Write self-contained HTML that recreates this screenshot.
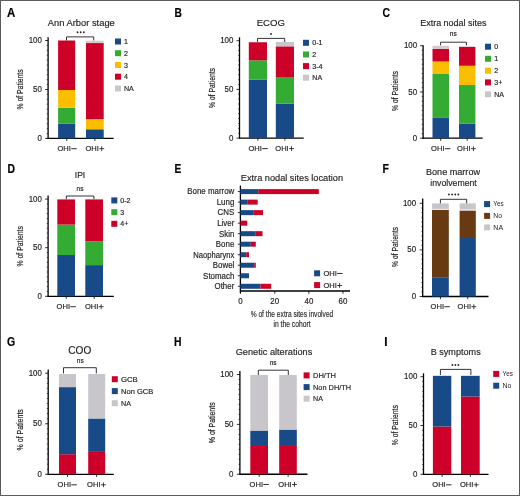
<!DOCTYPE html>
<html><head><meta charset="utf-8"><style>
html,body{margin:0;padding:0;background:#fff;}
body{width:520px;height:496px;overflow:hidden;}
svg{display:block;font-family:"Liberation Sans", sans-serif;filter:blur(0.3px);}


</style></head><body>
<svg width="520" height="496" viewBox="0 0 520 496">
<rect x="0" y="0" width="520" height="496" fill="#fff"/>
<text x="7.0" y="17" font-size="12.2" font-weight="bold" textLength="8.3" lengthAdjust="spacingAndGlyphs" stroke="#000" stroke-width="0.18" fill="#000">A</text>
<text x="47.8" y="26.0" font-size="9.95" textLength="67.0" lengthAdjust="spacingAndGlyphs" stroke="#231f20" stroke-width="0.18" fill="#231f20">Ann Arbor stage</text>
<line x1="48.10" y1="37.30" x2="48.10" y2="138.95" stroke="#000" stroke-width="1.3"/>
<line x1="45.10" y1="138.45" x2="48.10" y2="138.45" stroke="#000" stroke-width="0.8"/>
<line x1="46.70" y1="133.55" x2="48.10" y2="133.55" stroke="#000" stroke-width="0.6"/>
<line x1="46.70" y1="128.66" x2="48.10" y2="128.66" stroke="#000" stroke-width="0.6"/>
<line x1="46.70" y1="123.76" x2="48.10" y2="123.76" stroke="#000" stroke-width="0.6"/>
<line x1="46.70" y1="118.86" x2="48.10" y2="118.86" stroke="#000" stroke-width="0.6"/>
<line x1="46.70" y1="113.96" x2="48.10" y2="113.96" stroke="#000" stroke-width="0.6"/>
<line x1="46.70" y1="109.06" x2="48.10" y2="109.06" stroke="#000" stroke-width="0.6"/>
<line x1="46.70" y1="104.17" x2="48.10" y2="104.17" stroke="#000" stroke-width="0.6"/>
<line x1="46.70" y1="99.27" x2="48.10" y2="99.27" stroke="#000" stroke-width="0.6"/>
<line x1="46.70" y1="94.37" x2="48.10" y2="94.37" stroke="#000" stroke-width="0.6"/>
<line x1="45.10" y1="89.47" x2="48.10" y2="89.47" stroke="#000" stroke-width="0.8"/>
<line x1="46.70" y1="84.58" x2="48.10" y2="84.58" stroke="#000" stroke-width="0.6"/>
<line x1="46.70" y1="79.68" x2="48.10" y2="79.68" stroke="#000" stroke-width="0.6"/>
<line x1="46.70" y1="74.78" x2="48.10" y2="74.78" stroke="#000" stroke-width="0.6"/>
<line x1="46.70" y1="69.88" x2="48.10" y2="69.88" stroke="#000" stroke-width="0.6"/>
<line x1="46.70" y1="64.99" x2="48.10" y2="64.99" stroke="#000" stroke-width="0.6"/>
<line x1="46.70" y1="60.09" x2="48.10" y2="60.09" stroke="#000" stroke-width="0.6"/>
<line x1="46.70" y1="55.19" x2="48.10" y2="55.19" stroke="#000" stroke-width="0.6"/>
<line x1="46.70" y1="50.30" x2="48.10" y2="50.30" stroke="#000" stroke-width="0.6"/>
<line x1="46.70" y1="45.40" x2="48.10" y2="45.40" stroke="#000" stroke-width="0.6"/>
<line x1="45.10" y1="40.50" x2="48.10" y2="40.50" stroke="#000" stroke-width="0.8"/>
<text x="41.9" y="43.028" font-size="8.45" text-anchor="end" textLength="13.18" lengthAdjust="spacingAndGlyphs" stroke="#231f20" stroke-width="0.18" fill="#231f20">100</text>
<text x="41.9" y="92.028" font-size="8.45" text-anchor="end" textLength="8.79" lengthAdjust="spacingAndGlyphs" stroke="#231f20" stroke-width="0.18" fill="#231f20">50</text>
<text x="41.9" y="141.028" font-size="8.45" text-anchor="end" textLength="4.39" lengthAdjust="spacingAndGlyphs" stroke="#231f20" stroke-width="0.18" fill="#231f20">0</text>
<line x1="47.60" y1="138.45" x2="113.70" y2="138.45" stroke="#000" stroke-width="1.3"/>
<line x1="66.80" y1="138.45" x2="66.80" y2="141.05" stroke="#000" stroke-width="0.8"/>
<line x1="94.90" y1="138.45" x2="94.90" y2="141.05" stroke="#000" stroke-width="0.8"/>
<rect x="58.10" y="123.80" width="17.10" height="14.70" fill="#174a86"/>
<rect x="58.10" y="107.73" width="17.10" height="16.07" fill="#34ab33"/>
<rect x="58.10" y="89.99" width="17.10" height="17.74" fill="#fbbd00"/>
<rect x="58.10" y="40.50" width="17.10" height="49.49" fill="#cc0028"/>
<rect x="86.00" y="129.29" width="17.70" height="9.21" fill="#174a86"/>
<rect x="86.00" y="119.10" width="17.70" height="10.19" fill="#fbbd00"/>
<rect x="86.00" y="43.05" width="17.70" height="76.05" fill="#cc0028"/>
<rect x="86.00" y="40.70" width="17.70" height="2.35" fill="#ddc9cd"/>
<path d="M66.5,40.4 V36.9 H93.7 V40.4" fill="none" stroke="#000" stroke-width="0.8"/>
<ellipse cx="77.55" cy="32.25" rx="0.9" ry="0.99" fill="#231f20"/>
<ellipse cx="80.7" cy="32.25" rx="0.9" ry="0.99" fill="#231f20"/>
<ellipse cx="83.85" cy="32.25" rx="0.9" ry="0.99" fill="#231f20"/>
<rect x="115.00" y="38.50" width="6.00" height="6.00" fill="#174a86"/>
<text x="124" y="44.056" font-size="7.6" textLength="3.95" lengthAdjust="spacingAndGlyphs" stroke="#231f20" stroke-width="0.18" fill="#231f20">1</text>
<rect x="115.00" y="50.20" width="6.00" height="6.00" fill="#34ab33"/>
<text x="124" y="55.756" font-size="7.6" textLength="3.95" lengthAdjust="spacingAndGlyphs" stroke="#231f20" stroke-width="0.18" fill="#231f20">2</text>
<rect x="115.00" y="62.00" width="6.00" height="6.00" fill="#fbbd00"/>
<text x="124" y="67.556" font-size="7.6" textLength="3.95" lengthAdjust="spacingAndGlyphs" stroke="#231f20" stroke-width="0.18" fill="#231f20">3</text>
<rect x="115.00" y="73.70" width="6.00" height="6.00" fill="#cc0028"/>
<text x="124" y="79.256" font-size="7.6" textLength="3.95" lengthAdjust="spacingAndGlyphs" stroke="#231f20" stroke-width="0.18" fill="#231f20">4</text>
<rect x="115.00" y="85.50" width="6.00" height="6.00" fill="#c8c6ca"/>
<text x="124" y="91.056" font-size="7.6" textLength="9.86" lengthAdjust="spacingAndGlyphs" stroke="#231f20" stroke-width="0.18" fill="#231f20">NA</text>
<text transform="translate(23.0,89.4) rotate(-90)" x="0" y="0" font-size="9.4" text-anchor="middle" textLength="40.1" lengthAdjust="spacingAndGlyphs" fill="#231f20" stroke="#231f20" stroke-width="0.2">% of Patients</text>
<text x="57.50000000000001" y="151.3" font-size="7.92" textLength="13.4" lengthAdjust="spacingAndGlyphs" stroke="#231f20" stroke-width="0.18" fill="#231f20">OHI</text>
<rect x="71.20" y="148.25" width="5.5" height="0.95" fill="#231f20"/>
<text x="85.5" y="151.3" font-size="7.92" textLength="13.4" lengthAdjust="spacingAndGlyphs" stroke="#231f20" stroke-width="0.18" fill="#231f20">OHI</text>
<rect x="99.30" y="148.30" width="4.9" height="0.85" fill="#231f20"/>
<rect x="101.33" y="146.30" width="0.85" height="4.8" fill="#231f20"/>
<text x="174.6" y="17" font-size="12.2" font-weight="bold" textLength="7.4" lengthAdjust="spacingAndGlyphs" stroke="#000" stroke-width="0.18" fill="#000">B</text>
<text x="256.7" y="26.0" font-size="9.63" textLength="28.3" lengthAdjust="spacingAndGlyphs" stroke="#231f20" stroke-width="0.18" fill="#231f20">ECOG</text>
<line x1="239.50" y1="37.30" x2="239.50" y2="138.60" stroke="#000" stroke-width="1.3"/>
<line x1="236.50" y1="138.10" x2="239.50" y2="138.10" stroke="#000" stroke-width="0.8"/>
<line x1="238.10" y1="133.23" x2="239.50" y2="133.23" stroke="#000" stroke-width="0.6"/>
<line x1="238.10" y1="128.36" x2="239.50" y2="128.36" stroke="#000" stroke-width="0.6"/>
<line x1="238.10" y1="123.49" x2="239.50" y2="123.49" stroke="#000" stroke-width="0.6"/>
<line x1="238.10" y1="118.62" x2="239.50" y2="118.62" stroke="#000" stroke-width="0.6"/>
<line x1="238.10" y1="113.75" x2="239.50" y2="113.75" stroke="#000" stroke-width="0.6"/>
<line x1="238.10" y1="108.88" x2="239.50" y2="108.88" stroke="#000" stroke-width="0.6"/>
<line x1="238.10" y1="104.01" x2="239.50" y2="104.01" stroke="#000" stroke-width="0.6"/>
<line x1="238.10" y1="99.14" x2="239.50" y2="99.14" stroke="#000" stroke-width="0.6"/>
<line x1="238.10" y1="94.27" x2="239.50" y2="94.27" stroke="#000" stroke-width="0.6"/>
<line x1="236.50" y1="89.40" x2="239.50" y2="89.40" stroke="#000" stroke-width="0.8"/>
<line x1="238.10" y1="84.53" x2="239.50" y2="84.53" stroke="#000" stroke-width="0.6"/>
<line x1="238.10" y1="79.66" x2="239.50" y2="79.66" stroke="#000" stroke-width="0.6"/>
<line x1="238.10" y1="74.79" x2="239.50" y2="74.79" stroke="#000" stroke-width="0.6"/>
<line x1="238.10" y1="69.92" x2="239.50" y2="69.92" stroke="#000" stroke-width="0.6"/>
<line x1="238.10" y1="65.05" x2="239.50" y2="65.05" stroke="#000" stroke-width="0.6"/>
<line x1="238.10" y1="60.18" x2="239.50" y2="60.18" stroke="#000" stroke-width="0.6"/>
<line x1="238.10" y1="55.31" x2="239.50" y2="55.31" stroke="#000" stroke-width="0.6"/>
<line x1="238.10" y1="50.44" x2="239.50" y2="50.44" stroke="#000" stroke-width="0.6"/>
<line x1="238.10" y1="45.57" x2="239.50" y2="45.57" stroke="#000" stroke-width="0.6"/>
<line x1="236.50" y1="40.70" x2="239.50" y2="40.70" stroke="#000" stroke-width="0.8"/>
<text x="233.4" y="43.327999999999996" font-size="8.45" text-anchor="end" textLength="13.18" lengthAdjust="spacingAndGlyphs" stroke="#231f20" stroke-width="0.18" fill="#231f20">100</text>
<text x="233.4" y="91.978" font-size="8.45" text-anchor="end" textLength="8.79" lengthAdjust="spacingAndGlyphs" stroke="#231f20" stroke-width="0.18" fill="#231f20">50</text>
<text x="233.4" y="140.628" font-size="8.45" text-anchor="end" textLength="4.39" lengthAdjust="spacingAndGlyphs" stroke="#231f20" stroke-width="0.18" fill="#231f20">0</text>
<line x1="239.00" y1="138.10" x2="303.70" y2="138.10" stroke="#000" stroke-width="1.3"/>
<line x1="257.90" y1="138.10" x2="257.90" y2="140.70" stroke="#000" stroke-width="0.8"/>
<line x1="284.90" y1="138.10" x2="284.90" y2="140.70" stroke="#000" stroke-width="0.8"/>
<rect x="248.80" y="79.53" width="18.20" height="58.57" fill="#174a86"/>
<rect x="248.80" y="60.36" width="18.20" height="19.17" fill="#34ab33"/>
<rect x="248.80" y="42.26" width="18.20" height="18.10" fill="#cc0028"/>
<rect x="275.80" y="103.75" width="18.20" height="34.35" fill="#174a86"/>
<rect x="275.80" y="77.58" width="18.20" height="26.17" fill="#34ab33"/>
<rect x="275.80" y="46.35" width="18.20" height="31.23" fill="#cc0028"/>
<rect x="275.80" y="41.97" width="18.20" height="4.38" fill="#c8c6ca"/>
<path d="M257.5,42.0 V38.4 H284.7 V42.0" fill="none" stroke="#000" stroke-width="0.8"/>
<ellipse cx="271.0" cy="34.0" rx="0.9" ry="0.99" fill="#231f20"/>
<rect x="303.00" y="39.80" width="6.00" height="6.00" fill="#174a86"/>
<text x="312.3" y="45.355999999999995" font-size="7.6" textLength="10.26" lengthAdjust="spacingAndGlyphs" stroke="#231f20" stroke-width="0.18" fill="#231f20">0-1</text>
<rect x="303.00" y="51.50" width="6.00" height="6.00" fill="#34ab33"/>
<text x="312.3" y="57.056" font-size="7.6" textLength="3.95" lengthAdjust="spacingAndGlyphs" stroke="#231f20" stroke-width="0.18" fill="#231f20">2</text>
<rect x="303.00" y="63.10" width="6.00" height="6.00" fill="#cc0028"/>
<text x="312.3" y="68.65599999999999" font-size="7.6" textLength="10.26" lengthAdjust="spacingAndGlyphs" stroke="#231f20" stroke-width="0.18" fill="#231f20">3-4</text>
<rect x="303.00" y="74.70" width="6.00" height="6.00" fill="#c8c6ca"/>
<text x="312.3" y="80.256" font-size="7.6" textLength="9.86" lengthAdjust="spacingAndGlyphs" stroke="#231f20" stroke-width="0.18" fill="#231f20">NA</text>
<text transform="translate(215.0,88.0) rotate(-90)" x="0" y="0" font-size="9.4" text-anchor="middle" textLength="39.8" lengthAdjust="spacingAndGlyphs" fill="#231f20" stroke="#231f20" stroke-width="0.2">% of Patients</text>
<text x="248.49999999999997" y="151.2" font-size="7.92" textLength="13.4" lengthAdjust="spacingAndGlyphs" stroke="#231f20" stroke-width="0.18" fill="#231f20">OHI</text>
<rect x="262.20" y="148.15" width="5.5" height="0.95" fill="#231f20"/>
<text x="275.3" y="151.2" font-size="7.92" textLength="13.4" lengthAdjust="spacingAndGlyphs" stroke="#231f20" stroke-width="0.18" fill="#231f20">OHI</text>
<rect x="289.10" y="148.20" width="4.9" height="0.85" fill="#231f20"/>
<rect x="291.13" y="146.20" width="0.85" height="4.8" fill="#231f20"/>
<text x="382.6" y="17" font-size="12.2" font-weight="bold" textLength="7.5" lengthAdjust="spacingAndGlyphs" stroke="#000" stroke-width="0.18" fill="#000">C</text>
<text x="420.2" y="26.0" font-size="9.95" textLength="66.3" lengthAdjust="spacingAndGlyphs" stroke="#231f20" stroke-width="0.18" fill="#231f20">Extra nodal sites</text>
<line x1="423.10" y1="45.20" x2="423.10" y2="138.70" stroke="#000" stroke-width="1.3"/>
<line x1="420.10" y1="138.20" x2="423.10" y2="138.20" stroke="#000" stroke-width="0.8"/>
<line x1="421.70" y1="133.57" x2="423.10" y2="133.57" stroke="#000" stroke-width="0.6"/>
<line x1="421.70" y1="128.95" x2="423.10" y2="128.95" stroke="#000" stroke-width="0.6"/>
<line x1="421.70" y1="124.32" x2="423.10" y2="124.32" stroke="#000" stroke-width="0.6"/>
<line x1="421.70" y1="119.70" x2="423.10" y2="119.70" stroke="#000" stroke-width="0.6"/>
<line x1="421.70" y1="115.07" x2="423.10" y2="115.07" stroke="#000" stroke-width="0.6"/>
<line x1="421.70" y1="110.45" x2="423.10" y2="110.45" stroke="#000" stroke-width="0.6"/>
<line x1="421.70" y1="105.82" x2="423.10" y2="105.82" stroke="#000" stroke-width="0.6"/>
<line x1="421.70" y1="101.20" x2="423.10" y2="101.20" stroke="#000" stroke-width="0.6"/>
<line x1="421.70" y1="96.57" x2="423.10" y2="96.57" stroke="#000" stroke-width="0.6"/>
<line x1="420.10" y1="91.95" x2="423.10" y2="91.95" stroke="#000" stroke-width="0.8"/>
<line x1="421.70" y1="87.32" x2="423.10" y2="87.32" stroke="#000" stroke-width="0.6"/>
<line x1="421.70" y1="82.70" x2="423.10" y2="82.70" stroke="#000" stroke-width="0.6"/>
<line x1="421.70" y1="78.07" x2="423.10" y2="78.07" stroke="#000" stroke-width="0.6"/>
<line x1="421.70" y1="73.45" x2="423.10" y2="73.45" stroke="#000" stroke-width="0.6"/>
<line x1="421.70" y1="68.83" x2="423.10" y2="68.83" stroke="#000" stroke-width="0.6"/>
<line x1="421.70" y1="64.20" x2="423.10" y2="64.20" stroke="#000" stroke-width="0.6"/>
<line x1="421.70" y1="59.58" x2="423.10" y2="59.58" stroke="#000" stroke-width="0.6"/>
<line x1="421.70" y1="54.95" x2="423.10" y2="54.95" stroke="#000" stroke-width="0.6"/>
<line x1="421.70" y1="50.33" x2="423.10" y2="50.33" stroke="#000" stroke-width="0.6"/>
<line x1="420.10" y1="45.70" x2="423.10" y2="45.70" stroke="#000" stroke-width="0.8"/>
<text x="417.1" y="48.32799999999998" font-size="8.45" text-anchor="end" textLength="13.18" lengthAdjust="spacingAndGlyphs" stroke="#231f20" stroke-width="0.18" fill="#231f20">100</text>
<text x="417.1" y="94.52799999999999" font-size="8.45" text-anchor="end" textLength="8.79" lengthAdjust="spacingAndGlyphs" stroke="#231f20" stroke-width="0.18" fill="#231f20">50</text>
<text x="417.1" y="140.72799999999998" font-size="8.45" text-anchor="end" textLength="4.39" lengthAdjust="spacingAndGlyphs" stroke="#231f20" stroke-width="0.18" fill="#231f20">0</text>
<line x1="422.60" y1="138.20" x2="482.70" y2="138.20" stroke="#000" stroke-width="1.3"/>
<line x1="440.70" y1="138.20" x2="440.70" y2="140.80" stroke="#000" stroke-width="0.8"/>
<line x1="467.20" y1="138.20" x2="467.20" y2="140.80" stroke="#000" stroke-width="0.8"/>
<rect x="432.50" y="117.41" width="16.50" height="20.79" fill="#174a86"/>
<rect x="432.50" y="73.98" width="16.50" height="43.43" fill="#34ab33"/>
<rect x="432.50" y="61.51" width="16.50" height="12.47" fill="#fbbd00"/>
<rect x="432.50" y="48.94" width="16.50" height="12.57" fill="#cc0028"/>
<rect x="432.50" y="45.80" width="16.50" height="3.14" fill="#d6c9cd"/>
<rect x="459.00" y="123.79" width="16.40" height="14.41" fill="#174a86"/>
<rect x="459.00" y="84.98" width="16.40" height="38.81" fill="#34ab33"/>
<rect x="459.00" y="65.76" width="16.40" height="19.22" fill="#fbbd00"/>
<rect x="459.00" y="46.91" width="16.40" height="18.85" fill="#cc0028"/>
<rect x="459.00" y="46.26" width="16.40" height="0.65" fill="#e2c6cb"/>
<path d="M440.6,45.4 V42.2 H466.4 V45.4" fill="none" stroke="#000" stroke-width="0.8"/>
<text x="453.3" y="36.1" font-size="6.96" text-anchor="middle" textLength="6.86" lengthAdjust="spacingAndGlyphs" stroke="#231f20" stroke-width="0.18" fill="#231f20">ns</text>
<rect x="485.00" y="43.70" width="6.00" height="6.00" fill="#174a86"/>
<text x="494.2" y="49.256" font-size="7.6" textLength="3.95" lengthAdjust="spacingAndGlyphs" stroke="#231f20" stroke-width="0.18" fill="#231f20">0</text>
<rect x="485.00" y="55.80" width="6.00" height="6.00" fill="#34ab33"/>
<text x="494.2" y="61.355999999999995" font-size="7.6" textLength="3.95" lengthAdjust="spacingAndGlyphs" stroke="#231f20" stroke-width="0.18" fill="#231f20">1</text>
<rect x="485.00" y="67.70" width="6.00" height="6.00" fill="#fbbd00"/>
<text x="494.2" y="73.256" font-size="7.6" textLength="3.95" lengthAdjust="spacingAndGlyphs" stroke="#231f20" stroke-width="0.18" fill="#231f20">2</text>
<rect x="485.00" y="79.40" width="6.00" height="6.00" fill="#cc0028"/>
<text x="494.2" y="84.956" font-size="7.6" textLength="8.09" lengthAdjust="spacingAndGlyphs" stroke="#231f20" stroke-width="0.18" fill="#231f20">3+</text>
<rect x="485.00" y="91.30" width="6.00" height="6.00" fill="#c8c6ca"/>
<text x="494.2" y="96.856" font-size="7.6" textLength="9.86" lengthAdjust="spacingAndGlyphs" stroke="#231f20" stroke-width="0.18" fill="#231f20">NA</text>
<text transform="translate(397.9,91.0) rotate(-90)" x="0" y="0" font-size="9.4" text-anchor="middle" textLength="39.8" lengthAdjust="spacingAndGlyphs" fill="#231f20" stroke="#231f20" stroke-width="0.2">% of Patients</text>
<text x="431.1" y="151.3" font-size="7.92" textLength="13.4" lengthAdjust="spacingAndGlyphs" stroke="#231f20" stroke-width="0.18" fill="#231f20">OHI</text>
<rect x="444.80" y="148.25" width="5.5" height="0.95" fill="#231f20"/>
<text x="457.1" y="151.3" font-size="7.92" textLength="13.4" lengthAdjust="spacingAndGlyphs" stroke="#231f20" stroke-width="0.18" fill="#231f20">OHI</text>
<rect x="470.90" y="148.30" width="4.9" height="0.85" fill="#231f20"/>
<rect x="472.93" y="146.30" width="0.85" height="4.8" fill="#231f20"/>
<text x="7.6" y="173" font-size="12.2" font-weight="bold" textLength="7.5" lengthAdjust="spacingAndGlyphs" stroke="#000" stroke-width="0.18" fill="#000">D</text>
<text x="74.8" y="178.4" font-size="9.74" textLength="10.4" lengthAdjust="spacingAndGlyphs" stroke="#231f20" stroke-width="0.18" fill="#231f20">IPI</text>
<line x1="48.10" y1="195.40" x2="48.10" y2="296.80" stroke="#000" stroke-width="1.3"/>
<line x1="45.10" y1="296.30" x2="48.10" y2="296.30" stroke="#000" stroke-width="0.8"/>
<line x1="46.70" y1="291.44" x2="48.10" y2="291.44" stroke="#000" stroke-width="0.6"/>
<line x1="46.70" y1="286.58" x2="48.10" y2="286.58" stroke="#000" stroke-width="0.6"/>
<line x1="46.70" y1="281.72" x2="48.10" y2="281.72" stroke="#000" stroke-width="0.6"/>
<line x1="46.70" y1="276.86" x2="48.10" y2="276.86" stroke="#000" stroke-width="0.6"/>
<line x1="46.70" y1="272.00" x2="48.10" y2="272.00" stroke="#000" stroke-width="0.6"/>
<line x1="46.70" y1="267.14" x2="48.10" y2="267.14" stroke="#000" stroke-width="0.6"/>
<line x1="46.70" y1="262.28" x2="48.10" y2="262.28" stroke="#000" stroke-width="0.6"/>
<line x1="46.70" y1="257.42" x2="48.10" y2="257.42" stroke="#000" stroke-width="0.6"/>
<line x1="46.70" y1="252.56" x2="48.10" y2="252.56" stroke="#000" stroke-width="0.6"/>
<line x1="45.10" y1="247.70" x2="48.10" y2="247.70" stroke="#000" stroke-width="0.8"/>
<line x1="46.70" y1="242.84" x2="48.10" y2="242.84" stroke="#000" stroke-width="0.6"/>
<line x1="46.70" y1="237.98" x2="48.10" y2="237.98" stroke="#000" stroke-width="0.6"/>
<line x1="46.70" y1="233.12" x2="48.10" y2="233.12" stroke="#000" stroke-width="0.6"/>
<line x1="46.70" y1="228.26" x2="48.10" y2="228.26" stroke="#000" stroke-width="0.6"/>
<line x1="46.70" y1="223.40" x2="48.10" y2="223.40" stroke="#000" stroke-width="0.6"/>
<line x1="46.70" y1="218.54" x2="48.10" y2="218.54" stroke="#000" stroke-width="0.6"/>
<line x1="46.70" y1="213.68" x2="48.10" y2="213.68" stroke="#000" stroke-width="0.6"/>
<line x1="46.70" y1="208.82" x2="48.10" y2="208.82" stroke="#000" stroke-width="0.6"/>
<line x1="46.70" y1="203.96" x2="48.10" y2="203.96" stroke="#000" stroke-width="0.6"/>
<line x1="45.10" y1="199.10" x2="48.10" y2="199.10" stroke="#000" stroke-width="0.8"/>
<text x="41.9" y="201.928" font-size="8.45" text-anchor="end" textLength="13.18" lengthAdjust="spacingAndGlyphs" stroke="#231f20" stroke-width="0.18" fill="#231f20">100</text>
<text x="41.9" y="250.37800000000001" font-size="8.45" text-anchor="end" textLength="8.79" lengthAdjust="spacingAndGlyphs" stroke="#231f20" stroke-width="0.18" fill="#231f20">50</text>
<text x="41.9" y="298.82800000000003" font-size="8.45" text-anchor="end" textLength="4.39" lengthAdjust="spacingAndGlyphs" stroke="#231f20" stroke-width="0.18" fill="#231f20">0</text>
<line x1="47.60" y1="296.30" x2="113.80" y2="296.30" stroke="#000" stroke-width="1.3"/>
<line x1="66.20" y1="296.30" x2="66.20" y2="298.90" stroke="#000" stroke-width="0.8"/>
<line x1="94.20" y1="296.30" x2="94.20" y2="298.90" stroke="#000" stroke-width="0.8"/>
<rect x="57.30" y="255.02" width="17.70" height="41.28" fill="#174a86"/>
<rect x="57.30" y="224.59" width="17.70" height="30.43" fill="#34ab33"/>
<rect x="57.30" y="199.40" width="17.70" height="25.19" fill="#cc0028"/>
<rect x="85.30" y="265.10" width="17.70" height="31.20" fill="#174a86"/>
<rect x="85.30" y="241.36" width="17.70" height="23.74" fill="#34ab33"/>
<rect x="85.30" y="199.40" width="17.70" height="41.96" fill="#cc0028"/>
<path d="M66.3,199.0 V196.0 H93.9 V199.0" fill="none" stroke="#000" stroke-width="0.8"/>
<text x="80.0" y="190.8" font-size="6.96" text-anchor="middle" textLength="6.86" lengthAdjust="spacingAndGlyphs" stroke="#231f20" stroke-width="0.18" fill="#231f20">ns</text>
<rect x="111.30" y="197.40" width="6.00" height="6.00" fill="#174a86"/>
<text x="120.3" y="202.95600000000002" font-size="7.6" textLength="10.26" lengthAdjust="spacingAndGlyphs" stroke="#231f20" stroke-width="0.18" fill="#231f20">0-2</text>
<rect x="111.30" y="209.20" width="6.00" height="6.00" fill="#34ab33"/>
<text x="120.3" y="214.756" font-size="7.6" textLength="3.95" lengthAdjust="spacingAndGlyphs" stroke="#231f20" stroke-width="0.18" fill="#231f20">3</text>
<rect x="111.30" y="220.80" width="6.00" height="6.00" fill="#cc0028"/>
<text x="120.3" y="226.35600000000002" font-size="7.6" textLength="8.09" lengthAdjust="spacingAndGlyphs" stroke="#231f20" stroke-width="0.18" fill="#231f20">4+</text>
<text transform="translate(23.0,246.3) rotate(-90)" x="0" y="0" font-size="9.4" text-anchor="middle" textLength="40.2" lengthAdjust="spacingAndGlyphs" fill="#231f20" stroke="#231f20" stroke-width="0.2">% of Patients</text>
<text x="56.6" y="309.3" font-size="7.92" textLength="13.4" lengthAdjust="spacingAndGlyphs" stroke="#231f20" stroke-width="0.18" fill="#231f20">OHI</text>
<rect x="70.30" y="306.25" width="5.5" height="0.95" fill="#231f20"/>
<text x="84.89999999999999" y="309.3" font-size="7.92" textLength="13.4" lengthAdjust="spacingAndGlyphs" stroke="#231f20" stroke-width="0.18" fill="#231f20">OHI</text>
<rect x="98.70" y="306.30" width="4.9" height="0.85" fill="#231f20"/>
<rect x="100.73" y="304.30" width="0.85" height="4.8" fill="#231f20"/>
<text x="174.5" y="173" font-size="12.2" font-weight="bold" textLength="6.8" lengthAdjust="spacingAndGlyphs" stroke="#000" stroke-width="0.18" fill="#000">E</text>
<text x="240.8" y="181.0" font-size="9.95" textLength="102.2" lengthAdjust="spacingAndGlyphs" stroke="#231f20" stroke-width="0.18" fill="#231f20">Extra nodal sites location</text>
<line x1="240.40" y1="185.50" x2="240.40" y2="293.20" stroke="#000" stroke-width="1.3"/>
<line x1="237.80" y1="191.60" x2="240.40" y2="191.60" stroke="#000" stroke-width="0.8"/>
<rect x="240.40" y="189.10" width="17.80" height="5.00" fill="#174a86"/>
<rect x="258.20" y="189.10" width="60.60" height="5.00" fill="#cc0028"/>
<text x="234.3" y="194.444" font-size="8.45" text-anchor="end" textLength="46.98" lengthAdjust="spacingAndGlyphs" stroke="#231f20" stroke-width="0.18" fill="#231f20">Bone marrow</text>
<line x1="237.80" y1="202.12" x2="240.40" y2="202.12" stroke="#000" stroke-width="0.8"/>
<rect x="240.40" y="199.62" width="7.40" height="5.00" fill="#174a86"/>
<rect x="247.80" y="199.62" width="9.90" height="5.00" fill="#cc0028"/>
<text x="234.3" y="204.964" font-size="8.45" text-anchor="end" textLength="17.57" lengthAdjust="spacingAndGlyphs" stroke="#231f20" stroke-width="0.18" fill="#231f20">Lung</text>
<line x1="237.80" y1="212.64" x2="240.40" y2="212.64" stroke="#000" stroke-width="0.8"/>
<rect x="240.40" y="210.14" width="13.40" height="5.00" fill="#174a86"/>
<rect x="253.80" y="210.14" width="9.20" height="5.00" fill="#cc0028"/>
<text x="234.3" y="215.48399999999998" font-size="8.45" text-anchor="end" textLength="16.68" lengthAdjust="spacingAndGlyphs" stroke="#231f20" stroke-width="0.18" fill="#231f20">CNS</text>
<line x1="237.80" y1="223.16" x2="240.40" y2="223.16" stroke="#000" stroke-width="0.8"/>
<rect x="240.40" y="220.66" width="6.90" height="5.00" fill="#cc0028"/>
<text x="234.3" y="226.004" font-size="8.45" text-anchor="end" textLength="17.12" lengthAdjust="spacingAndGlyphs" stroke="#231f20" stroke-width="0.18" fill="#231f20">Liver</text>
<line x1="237.80" y1="233.68" x2="240.40" y2="233.68" stroke="#000" stroke-width="0.8"/>
<rect x="240.40" y="231.18" width="15.40" height="5.00" fill="#174a86"/>
<rect x="255.80" y="231.18" width="6.70" height="5.00" fill="#cc0028"/>
<text x="234.3" y="236.524" font-size="8.45" text-anchor="end" textLength="15.37" lengthAdjust="spacingAndGlyphs" stroke="#231f20" stroke-width="0.18" fill="#231f20">Skin</text>
<line x1="237.80" y1="244.20" x2="240.40" y2="244.20" stroke="#000" stroke-width="0.8"/>
<rect x="240.40" y="241.70" width="10.40" height="5.00" fill="#174a86"/>
<rect x="250.80" y="241.70" width="5.00" height="5.00" fill="#cc0028"/>
<text x="234.3" y="247.04399999999998" font-size="8.45" text-anchor="end" textLength="18.45" lengthAdjust="spacingAndGlyphs" stroke="#231f20" stroke-width="0.18" fill="#231f20">Bone</text>
<line x1="237.80" y1="254.72" x2="240.40" y2="254.72" stroke="#000" stroke-width="0.8"/>
<rect x="240.40" y="252.22" width="5.80" height="5.00" fill="#174a86"/>
<rect x="246.20" y="252.22" width="2.80" height="5.00" fill="#cc0028"/>
<text x="234.3" y="257.564" font-size="8.45" text-anchor="end" textLength="41.0" lengthAdjust="spacingAndGlyphs" stroke="#231f20" stroke-width="0.18" fill="#231f20">Naopharynx</text>
<line x1="237.80" y1="265.24" x2="240.40" y2="265.24" stroke="#000" stroke-width="0.8"/>
<rect x="240.40" y="262.74" width="13.80" height="5.00" fill="#174a86"/>
<rect x="254.20" y="262.74" width="1.60" height="5.00" fill="#cc0028"/>
<text x="234.3" y="268.084" font-size="8.45" text-anchor="end" textLength="21.52" lengthAdjust="spacingAndGlyphs" stroke="#231f20" stroke-width="0.18" fill="#231f20">Bowel</text>
<line x1="237.80" y1="275.76" x2="240.40" y2="275.76" stroke="#000" stroke-width="0.8"/>
<rect x="240.40" y="273.26" width="8.60" height="5.00" fill="#174a86"/>
<text x="234.3" y="278.604" font-size="8.45" text-anchor="end" textLength="31.18" lengthAdjust="spacingAndGlyphs" stroke="#231f20" stroke-width="0.18" fill="#231f20">Stomach</text>
<line x1="237.80" y1="286.28" x2="240.40" y2="286.28" stroke="#000" stroke-width="0.8"/>
<rect x="240.40" y="283.78" width="20.10" height="5.00" fill="#174a86"/>
<rect x="260.50" y="283.78" width="10.70" height="5.00" fill="#cc0028"/>
<text x="234.3" y="289.12399999999997" font-size="8.45" text-anchor="end" textLength="19.76" lengthAdjust="spacingAndGlyphs" stroke="#231f20" stroke-width="0.18" fill="#231f20">Other</text>
<line x1="239.90" y1="291.00" x2="350.00" y2="291.00" stroke="#000" stroke-width="1.3"/>
<line x1="240.50" y1="291.00" x2="240.50" y2="293.80" stroke="#000" stroke-width="0.8"/>
<text x="240.5" y="304.186" font-size="8.45" text-anchor="middle" textLength="4.39" lengthAdjust="spacingAndGlyphs" stroke="#231f20" stroke-width="0.18" fill="#231f20">0</text>
<line x1="274.75" y1="291.00" x2="274.75" y2="293.80" stroke="#000" stroke-width="0.8"/>
<text x="274.75" y="304.186" font-size="8.45" text-anchor="middle" textLength="8.79" lengthAdjust="spacingAndGlyphs" stroke="#231f20" stroke-width="0.18" fill="#231f20">20</text>
<line x1="308.90" y1="291.00" x2="308.90" y2="293.80" stroke="#000" stroke-width="0.8"/>
<text x="308.9" y="304.186" font-size="8.45" text-anchor="middle" textLength="8.79" lengthAdjust="spacingAndGlyphs" stroke="#231f20" stroke-width="0.18" fill="#231f20">40</text>
<line x1="343.00" y1="291.00" x2="343.00" y2="293.80" stroke="#000" stroke-width="0.8"/>
<text x="343.0" y="304.186" font-size="8.45" text-anchor="middle" textLength="8.79" lengthAdjust="spacingAndGlyphs" stroke="#231f20" stroke-width="0.18" fill="#231f20">60</text>
<text x="250.7" y="317.4" font-size="9.3" textLength="82.6" lengthAdjust="spacingAndGlyphs" stroke="#231f20" stroke-width="0.15" fill="#231f20">% of the extra sites involved</text>
<text x="273.5" y="327.4" font-size="9.3" textLength="37.0" lengthAdjust="spacingAndGlyphs" stroke="#231f20" stroke-width="0.15" fill="#231f20">in the cohort</text>
<rect x="314.10" y="270.30" width="6.00" height="6.00" fill="#174a86"/>
<rect x="314.10" y="282.10" width="6.00" height="6.00" fill="#cc0028"/>
<text x="323.40000000000003" y="276.0" font-size="7.92" textLength="13.4" lengthAdjust="spacingAndGlyphs" stroke="#231f20" stroke-width="0.18" fill="#231f20">OHI</text>
<rect x="337.10" y="272.95" width="5.5" height="0.95" fill="#231f20"/>
<text x="323.40000000000003" y="288.0" font-size="7.92" textLength="13.4" lengthAdjust="spacingAndGlyphs" stroke="#231f20" stroke-width="0.18" fill="#231f20">OHI</text>
<rect x="337.20" y="285.00" width="4.9" height="0.85" fill="#231f20"/>
<rect x="339.23" y="283.00" width="0.85" height="4.8" fill="#231f20"/>
<text x="382.5" y="173" font-size="12.2" font-weight="bold" textLength="6.4" lengthAdjust="spacingAndGlyphs" stroke="#000" stroke-width="0.18" fill="#000">F</text>
<text x="426.0" y="175.0" font-size="9.95" textLength="54.0" lengthAdjust="spacingAndGlyphs" stroke="#231f20" stroke-width="0.18" fill="#231f20">Bone marrow</text>
<text x="430.3" y="186.0" font-size="9.95" textLength="46.5" lengthAdjust="spacingAndGlyphs" stroke="#231f20" stroke-width="0.18" fill="#231f20">involvement</text>
<line x1="422.70" y1="198.60" x2="422.70" y2="297.00" stroke="#000" stroke-width="1.3"/>
<line x1="419.70" y1="296.50" x2="422.70" y2="296.50" stroke="#000" stroke-width="0.8"/>
<line x1="421.30" y1="291.84" x2="422.70" y2="291.84" stroke="#000" stroke-width="0.6"/>
<line x1="421.30" y1="287.18" x2="422.70" y2="287.18" stroke="#000" stroke-width="0.6"/>
<line x1="421.30" y1="282.52" x2="422.70" y2="282.52" stroke="#000" stroke-width="0.6"/>
<line x1="421.30" y1="277.86" x2="422.70" y2="277.86" stroke="#000" stroke-width="0.6"/>
<line x1="421.30" y1="273.20" x2="422.70" y2="273.20" stroke="#000" stroke-width="0.6"/>
<line x1="421.30" y1="268.54" x2="422.70" y2="268.54" stroke="#000" stroke-width="0.6"/>
<line x1="421.30" y1="263.88" x2="422.70" y2="263.88" stroke="#000" stroke-width="0.6"/>
<line x1="421.30" y1="259.22" x2="422.70" y2="259.22" stroke="#000" stroke-width="0.6"/>
<line x1="421.30" y1="254.56" x2="422.70" y2="254.56" stroke="#000" stroke-width="0.6"/>
<line x1="419.70" y1="249.90" x2="422.70" y2="249.90" stroke="#000" stroke-width="0.8"/>
<line x1="421.30" y1="245.24" x2="422.70" y2="245.24" stroke="#000" stroke-width="0.6"/>
<line x1="421.30" y1="240.58" x2="422.70" y2="240.58" stroke="#000" stroke-width="0.6"/>
<line x1="421.30" y1="235.92" x2="422.70" y2="235.92" stroke="#000" stroke-width="0.6"/>
<line x1="421.30" y1="231.26" x2="422.70" y2="231.26" stroke="#000" stroke-width="0.6"/>
<line x1="421.30" y1="226.60" x2="422.70" y2="226.60" stroke="#000" stroke-width="0.6"/>
<line x1="421.30" y1="221.94" x2="422.70" y2="221.94" stroke="#000" stroke-width="0.6"/>
<line x1="421.30" y1="217.28" x2="422.70" y2="217.28" stroke="#000" stroke-width="0.6"/>
<line x1="421.30" y1="212.62" x2="422.70" y2="212.62" stroke="#000" stroke-width="0.6"/>
<line x1="421.30" y1="207.96" x2="422.70" y2="207.96" stroke="#000" stroke-width="0.6"/>
<line x1="419.70" y1="203.30" x2="422.70" y2="203.30" stroke="#000" stroke-width="0.8"/>
<text x="416.1" y="205.928" font-size="8.45" text-anchor="end" textLength="13.18" lengthAdjust="spacingAndGlyphs" stroke="#231f20" stroke-width="0.18" fill="#231f20">100</text>
<text x="416.1" y="252.47799999999998" font-size="8.45" text-anchor="end" textLength="8.79" lengthAdjust="spacingAndGlyphs" stroke="#231f20" stroke-width="0.18" fill="#231f20">50</text>
<text x="416.1" y="299.028" font-size="8.45" text-anchor="end" textLength="4.39" lengthAdjust="spacingAndGlyphs" stroke="#231f20" stroke-width="0.18" fill="#231f20">0</text>
<line x1="422.20" y1="296.50" x2="488.50" y2="296.50" stroke="#000" stroke-width="1.3"/>
<line x1="440.40" y1="296.50" x2="440.40" y2="299.10" stroke="#000" stroke-width="0.8"/>
<line x1="467.70" y1="296.50" x2="467.70" y2="299.10" stroke="#000" stroke-width="0.8"/>
<rect x="432.00" y="277.79" width="16.80" height="18.71" fill="#174a86"/>
<rect x="432.00" y="210.01" width="16.80" height="67.78" fill="#683a12"/>
<rect x="432.00" y="208.89" width="16.80" height="1.12" fill="#efe2e2"/>
<rect x="432.00" y="203.40" width="16.80" height="5.49" fill="#c8c6ca"/>
<rect x="459.60" y="238.03" width="16.20" height="58.47" fill="#174a86"/>
<rect x="459.60" y="210.48" width="16.20" height="27.56" fill="#683a12"/>
<rect x="459.60" y="209.36" width="16.20" height="1.12" fill="#efe2e2"/>
<rect x="459.60" y="203.40" width="16.20" height="5.96" fill="#c8c6ca"/>
<path d="M440.4,203.4 V199.3 H466.7 V203.4" fill="none" stroke="#000" stroke-width="0.8"/>
<ellipse cx="449.0" cy="194.5" rx="0.9" ry="0.99" fill="#231f20"/>
<ellipse cx="452.1" cy="194.5" rx="0.9" ry="0.99" fill="#231f20"/>
<ellipse cx="455.2" cy="194.5" rx="0.9" ry="0.99" fill="#231f20"/>
<ellipse cx="458.3" cy="194.5" rx="0.9" ry="0.99" fill="#231f20"/>
<rect x="484.10" y="201.10" width="6.00" height="6.00" fill="#174a86"/>
<text x="493.3" y="206.33599999999998" font-size="7.6" textLength="10.3" lengthAdjust="spacingAndGlyphs" stroke-width="0" fill="#231f20">Yes</text>
<rect x="484.10" y="212.90" width="6.00" height="6.00" fill="#683a12"/>
<text x="493.3" y="218.136" font-size="7.6" textLength="8.8" lengthAdjust="spacingAndGlyphs" stroke-width="0" fill="#231f20">No</text>
<rect x="484.10" y="224.40" width="6.00" height="6.00" fill="#c8c6ca"/>
<text x="493.3" y="229.636" font-size="7.6" textLength="9.8" lengthAdjust="spacingAndGlyphs" stroke-width="0" fill="#231f20">NA</text>
<text transform="translate(397.6,247.0) rotate(-90)" x="0" y="0" font-size="9.4" text-anchor="middle" textLength="39.8" lengthAdjust="spacingAndGlyphs" fill="#231f20" stroke="#231f20" stroke-width="0.2">% of Patients</text>
<text x="430.6" y="309.3" font-size="7.92" textLength="13.4" lengthAdjust="spacingAndGlyphs" stroke="#231f20" stroke-width="0.18" fill="#231f20">OHI</text>
<rect x="444.30" y="306.25" width="5.5" height="0.95" fill="#231f20"/>
<text x="457.6" y="309.3" font-size="7.92" textLength="13.4" lengthAdjust="spacingAndGlyphs" stroke="#231f20" stroke-width="0.18" fill="#231f20">OHI</text>
<rect x="471.40" y="306.30" width="4.9" height="0.85" fill="#231f20"/>
<rect x="473.43" y="304.30" width="0.85" height="4.8" fill="#231f20"/>
<text x="7.0" y="346" font-size="12.2" font-weight="bold" textLength="8.2" lengthAdjust="spacingAndGlyphs" stroke="#000" stroke-width="0.18" fill="#000">G</text>
<text x="68.3" y="354.0" font-size="10.17" textLength="23.0" lengthAdjust="spacingAndGlyphs" stroke="#231f20" stroke-width="0.18" fill="#231f20">COO</text>
<line x1="48.20" y1="369.60" x2="48.20" y2="474.80" stroke="#000" stroke-width="1.3"/>
<line x1="45.20" y1="474.30" x2="48.20" y2="474.30" stroke="#000" stroke-width="0.8"/>
<line x1="46.80" y1="469.25" x2="48.20" y2="469.25" stroke="#000" stroke-width="0.6"/>
<line x1="46.80" y1="464.19" x2="48.20" y2="464.19" stroke="#000" stroke-width="0.6"/>
<line x1="46.80" y1="459.13" x2="48.20" y2="459.13" stroke="#000" stroke-width="0.6"/>
<line x1="46.80" y1="454.08" x2="48.20" y2="454.08" stroke="#000" stroke-width="0.6"/>
<line x1="46.80" y1="449.02" x2="48.20" y2="449.02" stroke="#000" stroke-width="0.6"/>
<line x1="46.80" y1="443.97" x2="48.20" y2="443.97" stroke="#000" stroke-width="0.6"/>
<line x1="46.80" y1="438.92" x2="48.20" y2="438.92" stroke="#000" stroke-width="0.6"/>
<line x1="46.80" y1="433.86" x2="48.20" y2="433.86" stroke="#000" stroke-width="0.6"/>
<line x1="46.80" y1="428.81" x2="48.20" y2="428.81" stroke="#000" stroke-width="0.6"/>
<line x1="45.20" y1="423.75" x2="48.20" y2="423.75" stroke="#000" stroke-width="0.8"/>
<line x1="46.80" y1="418.69" x2="48.20" y2="418.69" stroke="#000" stroke-width="0.6"/>
<line x1="46.80" y1="413.64" x2="48.20" y2="413.64" stroke="#000" stroke-width="0.6"/>
<line x1="46.80" y1="408.58" x2="48.20" y2="408.58" stroke="#000" stroke-width="0.6"/>
<line x1="46.80" y1="403.53" x2="48.20" y2="403.53" stroke="#000" stroke-width="0.6"/>
<line x1="46.80" y1="398.48" x2="48.20" y2="398.48" stroke="#000" stroke-width="0.6"/>
<line x1="46.80" y1="393.42" x2="48.20" y2="393.42" stroke="#000" stroke-width="0.6"/>
<line x1="46.80" y1="388.37" x2="48.20" y2="388.37" stroke="#000" stroke-width="0.6"/>
<line x1="46.80" y1="383.31" x2="48.20" y2="383.31" stroke="#000" stroke-width="0.6"/>
<line x1="46.80" y1="378.25" x2="48.20" y2="378.25" stroke="#000" stroke-width="0.6"/>
<line x1="45.20" y1="373.20" x2="48.20" y2="373.20" stroke="#000" stroke-width="0.8"/>
<text x="41.9" y="375.928" font-size="8.45" text-anchor="end" textLength="13.18" lengthAdjust="spacingAndGlyphs" stroke="#231f20" stroke-width="0.18" fill="#231f20">100</text>
<text x="41.9" y="426.37800000000004" font-size="8.45" text-anchor="end" textLength="8.79" lengthAdjust="spacingAndGlyphs" stroke="#231f20" stroke-width="0.18" fill="#231f20">50</text>
<text x="41.9" y="476.82800000000003" font-size="8.45" text-anchor="end" textLength="4.39" lengthAdjust="spacingAndGlyphs" stroke="#231f20" stroke-width="0.18" fill="#231f20">0</text>
<line x1="47.70" y1="474.30" x2="113.80" y2="474.30" stroke="#000" stroke-width="1.3"/>
<line x1="67.50" y1="474.30" x2="67.50" y2="476.90" stroke="#000" stroke-width="0.8"/>
<line x1="96.60" y1="474.30" x2="96.60" y2="476.90" stroke="#000" stroke-width="0.8"/>
<rect x="59.00" y="454.22" width="17.00" height="20.08" fill="#cc0028"/>
<rect x="59.00" y="387.12" width="17.00" height="67.10" fill="#174a86"/>
<rect x="59.00" y="374.01" width="17.00" height="13.12" fill="#c8c6ca"/>
<rect x="88.20" y="451.90" width="17.00" height="22.40" fill="#cc0028"/>
<rect x="88.20" y="418.50" width="17.00" height="33.40" fill="#174a86"/>
<rect x="88.20" y="374.01" width="17.00" height="44.50" fill="#c8c6ca"/>
<path d="M63.5,373.4 V367.7 H96.3 V373.4" fill="none" stroke="#000" stroke-width="0.8"/>
<text x="80.2" y="362.8" font-size="6.96" text-anchor="middle" textLength="6.86" lengthAdjust="spacingAndGlyphs" stroke="#231f20" stroke-width="0.18" fill="#231f20">ns</text>
<rect x="111.80" y="376.20" width="6.00" height="6.00" fill="#cc0028"/>
<text x="121.0" y="381.756" font-size="7.6" textLength="16.8" lengthAdjust="spacingAndGlyphs" stroke="#231f20" stroke-width="0.18" fill="#231f20">GCB</text>
<rect x="111.80" y="388.10" width="6.00" height="6.00" fill="#174a86"/>
<text x="121.0" y="393.656" font-size="7.6" textLength="32.3" lengthAdjust="spacingAndGlyphs" stroke="#231f20" stroke-width="0.18" fill="#231f20">Non GCB</text>
<rect x="111.80" y="400.20" width="6.00" height="6.00" fill="#c8c6ca"/>
<text x="121.0" y="405.756" font-size="7.6" textLength="9.9" lengthAdjust="spacingAndGlyphs" stroke="#231f20" stroke-width="0.18" fill="#231f20">NA</text>
<text transform="translate(22.7,429.8) rotate(-90)" x="0" y="0" font-size="9.4" text-anchor="middle" textLength="41.3" lengthAdjust="spacingAndGlyphs" fill="#231f20" stroke="#231f20" stroke-width="0.2">% of Patients</text>
<text x="57.6" y="487.4" font-size="7.92" textLength="13.4" lengthAdjust="spacingAndGlyphs" stroke="#231f20" stroke-width="0.18" fill="#231f20">OHI</text>
<rect x="71.30" y="484.35" width="5.5" height="0.95" fill="#231f20"/>
<text x="87.1" y="487.4" font-size="7.92" textLength="13.4" lengthAdjust="spacingAndGlyphs" stroke="#231f20" stroke-width="0.18" fill="#231f20">OHI</text>
<rect x="100.90" y="484.40" width="4.9" height="0.85" fill="#231f20"/>
<rect x="102.93" y="482.40" width="0.85" height="4.8" fill="#231f20"/>
<text x="174.0" y="346" font-size="12.2" font-weight="bold" textLength="7.5" lengthAdjust="spacingAndGlyphs" stroke="#000" stroke-width="0.18" fill="#000">H</text>
<text x="235.7" y="354.6" font-size="9.95" textLength="76.6" lengthAdjust="spacingAndGlyphs" stroke="#231f20" stroke-width="0.18" fill="#231f20">Genetic alterations</text>
<line x1="239.90" y1="371.00" x2="239.90" y2="474.75" stroke="#000" stroke-width="1.3"/>
<line x1="236.90" y1="474.25" x2="239.90" y2="474.25" stroke="#000" stroke-width="0.8"/>
<line x1="238.50" y1="469.26" x2="239.90" y2="469.26" stroke="#000" stroke-width="0.6"/>
<line x1="238.50" y1="464.27" x2="239.90" y2="464.27" stroke="#000" stroke-width="0.6"/>
<line x1="238.50" y1="459.29" x2="239.90" y2="459.29" stroke="#000" stroke-width="0.6"/>
<line x1="238.50" y1="454.30" x2="239.90" y2="454.30" stroke="#000" stroke-width="0.6"/>
<line x1="238.50" y1="449.31" x2="239.90" y2="449.31" stroke="#000" stroke-width="0.6"/>
<line x1="238.50" y1="444.32" x2="239.90" y2="444.32" stroke="#000" stroke-width="0.6"/>
<line x1="238.50" y1="439.34" x2="239.90" y2="439.34" stroke="#000" stroke-width="0.6"/>
<line x1="238.50" y1="434.35" x2="239.90" y2="434.35" stroke="#000" stroke-width="0.6"/>
<line x1="238.50" y1="429.36" x2="239.90" y2="429.36" stroke="#000" stroke-width="0.6"/>
<line x1="236.90" y1="424.38" x2="239.90" y2="424.38" stroke="#000" stroke-width="0.8"/>
<line x1="238.50" y1="419.39" x2="239.90" y2="419.39" stroke="#000" stroke-width="0.6"/>
<line x1="238.50" y1="414.40" x2="239.90" y2="414.40" stroke="#000" stroke-width="0.6"/>
<line x1="238.50" y1="409.41" x2="239.90" y2="409.41" stroke="#000" stroke-width="0.6"/>
<line x1="238.50" y1="404.43" x2="239.90" y2="404.43" stroke="#000" stroke-width="0.6"/>
<line x1="238.50" y1="399.44" x2="239.90" y2="399.44" stroke="#000" stroke-width="0.6"/>
<line x1="238.50" y1="394.45" x2="239.90" y2="394.45" stroke="#000" stroke-width="0.6"/>
<line x1="238.50" y1="389.46" x2="239.90" y2="389.46" stroke="#000" stroke-width="0.6"/>
<line x1="238.50" y1="384.48" x2="239.90" y2="384.48" stroke="#000" stroke-width="0.6"/>
<line x1="238.50" y1="379.49" x2="239.90" y2="379.49" stroke="#000" stroke-width="0.6"/>
<line x1="236.90" y1="374.50" x2="239.90" y2="374.50" stroke="#000" stroke-width="0.8"/>
<text x="233.5" y="376.928" font-size="8.45" text-anchor="end" textLength="13.18" lengthAdjust="spacingAndGlyphs" stroke="#231f20" stroke-width="0.18" fill="#231f20">100</text>
<text x="233.5" y="426.853" font-size="8.45" text-anchor="end" textLength="8.79" lengthAdjust="spacingAndGlyphs" stroke="#231f20" stroke-width="0.18" fill="#231f20">50</text>
<text x="233.5" y="476.778" font-size="8.45" text-anchor="end" textLength="4.39" lengthAdjust="spacingAndGlyphs" stroke="#231f20" stroke-width="0.18" fill="#231f20">0</text>
<line x1="239.40" y1="474.25" x2="307.50" y2="474.25" stroke="#000" stroke-width="1.3"/>
<line x1="259.20" y1="474.25" x2="259.20" y2="476.85" stroke="#000" stroke-width="0.8"/>
<line x1="288.10" y1="474.25" x2="288.10" y2="476.85" stroke="#000" stroke-width="0.8"/>
<rect x="250.30" y="445.04" width="17.70" height="29.21" fill="#cc0028"/>
<rect x="250.30" y="430.57" width="17.70" height="14.48" fill="#174a86"/>
<rect x="250.30" y="375.00" width="17.70" height="55.57" fill="#c8c6ca"/>
<rect x="279.20" y="445.04" width="17.60" height="29.21" fill="#cc0028"/>
<rect x="279.20" y="429.57" width="17.60" height="15.48" fill="#174a86"/>
<rect x="279.20" y="375.00" width="17.60" height="54.57" fill="#c8c6ca"/>
<path d="M258.3,375.0 V370.2 H288.3 V375.0" fill="none" stroke="#000" stroke-width="0.8"/>
<text x="273.1" y="365.0" font-size="6.96" text-anchor="middle" textLength="6.86" lengthAdjust="spacingAndGlyphs" stroke="#231f20" stroke-width="0.18" fill="#231f20">ns</text>
<rect x="303.60" y="372.40" width="6.00" height="6.00" fill="#cc0028"/>
<text x="313.0" y="377.95599999999996" font-size="7.6" textLength="23.0" lengthAdjust="spacingAndGlyphs" stroke="#231f20" stroke-width="0.18" fill="#231f20">DH/TH</text>
<rect x="303.60" y="384.10" width="6.00" height="6.00" fill="#174a86"/>
<text x="313.0" y="389.656" font-size="7.6" textLength="38.1" lengthAdjust="spacingAndGlyphs" stroke="#231f20" stroke-width="0.18" fill="#231f20">Non DH/TH</text>
<rect x="303.60" y="395.70" width="6.00" height="6.00" fill="#c8c6ca"/>
<text x="313.0" y="401.256" font-size="7.6" textLength="9.9" lengthAdjust="spacingAndGlyphs" stroke="#231f20" stroke-width="0.18" fill="#231f20">NA</text>
<text transform="translate(215.0,422.8) rotate(-90)" x="0" y="0" font-size="9.4" text-anchor="middle" textLength="40.8" lengthAdjust="spacingAndGlyphs" fill="#231f20" stroke="#231f20" stroke-width="0.2">% of Patients</text>
<text x="249.6" y="487.0" font-size="7.92" textLength="13.4" lengthAdjust="spacingAndGlyphs" stroke="#231f20" stroke-width="0.18" fill="#231f20">OHI</text>
<rect x="263.30" y="483.95" width="5.5" height="0.95" fill="#231f20"/>
<text x="278.3" y="487.0" font-size="7.92" textLength="13.4" lengthAdjust="spacingAndGlyphs" stroke="#231f20" stroke-width="0.18" fill="#231f20">OHI</text>
<rect x="292.10" y="484.00" width="4.9" height="0.85" fill="#231f20"/>
<rect x="294.13" y="482.00" width="0.85" height="4.8" fill="#231f20"/>
<text x="384.3" y="346" font-size="12.2" font-weight="bold" textLength="3.3" lengthAdjust="spacingAndGlyphs" stroke="#000" stroke-width="0.18" fill="#000">I</text>
<text x="430.7" y="355.0" font-size="9.95" textLength="50.0" lengthAdjust="spacingAndGlyphs" stroke="#231f20" stroke-width="0.18" fill="#231f20">B symptoms</text>
<line x1="423.50" y1="373.30" x2="423.50" y2="474.80" stroke="#000" stroke-width="1.3"/>
<line x1="420.50" y1="474.30" x2="423.50" y2="474.30" stroke="#000" stroke-width="0.8"/>
<line x1="422.10" y1="469.42" x2="423.50" y2="469.42" stroke="#000" stroke-width="0.6"/>
<line x1="422.10" y1="464.54" x2="423.50" y2="464.54" stroke="#000" stroke-width="0.6"/>
<line x1="422.10" y1="459.66" x2="423.50" y2="459.66" stroke="#000" stroke-width="0.6"/>
<line x1="422.10" y1="454.78" x2="423.50" y2="454.78" stroke="#000" stroke-width="0.6"/>
<line x1="422.10" y1="449.90" x2="423.50" y2="449.90" stroke="#000" stroke-width="0.6"/>
<line x1="422.10" y1="445.02" x2="423.50" y2="445.02" stroke="#000" stroke-width="0.6"/>
<line x1="422.10" y1="440.14" x2="423.50" y2="440.14" stroke="#000" stroke-width="0.6"/>
<line x1="422.10" y1="435.26" x2="423.50" y2="435.26" stroke="#000" stroke-width="0.6"/>
<line x1="422.10" y1="430.38" x2="423.50" y2="430.38" stroke="#000" stroke-width="0.6"/>
<line x1="420.50" y1="425.50" x2="423.50" y2="425.50" stroke="#000" stroke-width="0.8"/>
<line x1="422.10" y1="420.62" x2="423.50" y2="420.62" stroke="#000" stroke-width="0.6"/>
<line x1="422.10" y1="415.74" x2="423.50" y2="415.74" stroke="#000" stroke-width="0.6"/>
<line x1="422.10" y1="410.86" x2="423.50" y2="410.86" stroke="#000" stroke-width="0.6"/>
<line x1="422.10" y1="405.98" x2="423.50" y2="405.98" stroke="#000" stroke-width="0.6"/>
<line x1="422.10" y1="401.10" x2="423.50" y2="401.10" stroke="#000" stroke-width="0.6"/>
<line x1="422.10" y1="396.22" x2="423.50" y2="396.22" stroke="#000" stroke-width="0.6"/>
<line x1="422.10" y1="391.34" x2="423.50" y2="391.34" stroke="#000" stroke-width="0.6"/>
<line x1="422.10" y1="386.46" x2="423.50" y2="386.46" stroke="#000" stroke-width="0.6"/>
<line x1="422.10" y1="381.58" x2="423.50" y2="381.58" stroke="#000" stroke-width="0.6"/>
<line x1="420.50" y1="376.70" x2="423.50" y2="376.70" stroke="#000" stroke-width="0.8"/>
<text x="417.3" y="379.32800000000003" font-size="8.45" text-anchor="end" textLength="13.18" lengthAdjust="spacingAndGlyphs" stroke="#231f20" stroke-width="0.18" fill="#231f20">100</text>
<text x="417.3" y="428.07800000000003" font-size="8.45" text-anchor="end" textLength="8.79" lengthAdjust="spacingAndGlyphs" stroke="#231f20" stroke-width="0.18" fill="#231f20">50</text>
<text x="417.3" y="476.82800000000003" font-size="8.45" text-anchor="end" textLength="4.39" lengthAdjust="spacingAndGlyphs" stroke="#231f20" stroke-width="0.18" fill="#231f20">0</text>
<line x1="423.00" y1="474.30" x2="488.50" y2="474.30" stroke="#000" stroke-width="1.3"/>
<line x1="442.10" y1="474.30" x2="442.10" y2="476.90" stroke="#000" stroke-width="0.8"/>
<line x1="470.40" y1="474.30" x2="470.40" y2="476.90" stroke="#000" stroke-width="0.8"/>
<rect x="432.90" y="426.53" width="18.40" height="47.77" fill="#cc0028"/>
<rect x="432.90" y="375.83" width="18.40" height="50.70" fill="#174a86"/>
<rect x="461.00" y="396.50" width="18.70" height="77.81" fill="#cc0028"/>
<rect x="461.00" y="375.83" width="18.70" height="20.67" fill="#174a86"/>
<path d="M440.4,375.0 V369.4 H470.9 V375.0" fill="none" stroke="#000" stroke-width="0.8"/>
<ellipse cx="452.4" cy="365.0" rx="0.9" ry="0.99" fill="#231f20"/>
<ellipse cx="455.4" cy="365.0" rx="0.9" ry="0.99" fill="#231f20"/>
<ellipse cx="458.4" cy="365.0" rx="0.9" ry="0.99" fill="#231f20"/>
<rect x="493.20" y="370.90" width="6.00" height="6.00" fill="#cc0028"/>
<text x="502.6" y="376.13599999999997" font-size="7.6" textLength="10.2" lengthAdjust="spacingAndGlyphs" stroke-width="0" fill="#231f20">Yes</text>
<rect x="493.20" y="382.70" width="6.00" height="6.00" fill="#174a86"/>
<text x="502.6" y="387.936" font-size="7.6" textLength="8.9" lengthAdjust="spacingAndGlyphs" stroke-width="0" fill="#231f20">No</text>
<text transform="translate(397.9,425.2) rotate(-90)" x="0" y="0" font-size="9.4" text-anchor="middle" textLength="40.0" lengthAdjust="spacingAndGlyphs" fill="#231f20" stroke="#231f20" stroke-width="0.2">% of Patients</text>
<text x="432.3" y="487.4" font-size="7.92" textLength="13.4" lengthAdjust="spacingAndGlyphs" stroke="#231f20" stroke-width="0.18" fill="#231f20">OHI</text>
<rect x="446.00" y="484.35" width="5.5" height="0.95" fill="#231f20"/>
<text x="459.90000000000003" y="487.4" font-size="7.92" textLength="13.4" lengthAdjust="spacingAndGlyphs" stroke="#231f20" stroke-width="0.18" fill="#231f20">OHI</text>
<rect x="473.70" y="484.40" width="4.9" height="0.85" fill="#231f20"/>
<rect x="475.73" y="482.40" width="0.85" height="4.8" fill="#231f20"/>
<rect x="0.5" y="0.5" width="519" height="495" fill="none" stroke="#5a5a5a" stroke-width="1"/>
</svg>
</body></html>
